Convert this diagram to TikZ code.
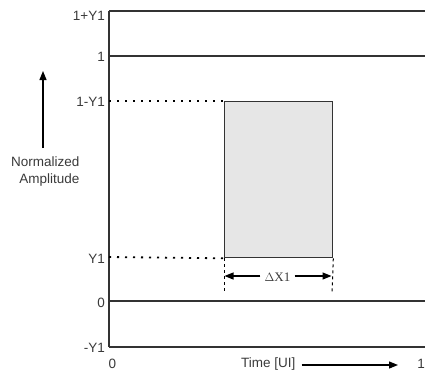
\documentclass[tikz,border=0pt]{standalone}
\usepackage{fontspec}
\setmainfont{Liberation Sans}
\newfontfamily\timesf{Liberation Serif}
\usetikzlibrary{arrows.meta}
\definecolor{ink}{HTML}{333333}
\definecolor{txt}{HTML}{3A3A3A}
\definecolor{boxfill}{HTML}{E6E6E6}
\begin{document}
\begin{tikzpicture}[x=1pt,y=-1pt,
  solidline/.style={draw=ink,line width=1.3pt},
  dotline/.style={draw=black,line width=1.8pt,dash pattern=on 2.2pt off 5.8pt},
  dashline/.style={draw=black,line width=1pt,dash pattern=on 3pt off 3pt},
  lab/.style={font=\fontsize{13.5}{15}\selectfont,text=txt,inner sep=0pt},
  ylab/.style={lab,anchor=east},
  tip/.style={-{Triangle[length=9pt,width=7pt]}}]
\useasboundingbox (0,0) rectangle (425,373);
% coordinates
\coordinate (axT) at (109,11);
\coordinate (axB) at (109,347);
\coordinate (r1) at (425,11);
\coordinate (r2) at (425,56);
\coordinate (r5) at (425,301);
\coordinate (r6) at (425,347);
\coordinate (a2) at (109,56);
\coordinate (a3) at (109,101);
\coordinate (a4) at (109,257);
\coordinate (a5) at (109,301);
% box
\node[draw=ink,line width=1.3pt,fill=boxfill,minimum width=108pt,minimum height=156pt,inner sep=0pt,anchor=north west] (box) at (224,101) {};
% horizontal lines
\draw[solidline] (axT) -- (r1);
\draw[solidline] (a2) -- (r2);
\draw[solidline] (a5) -- (r5);
\draw[solidline] (axB) -- (r6);
\draw[solidline] (axT) -- (axB);
% dotted
\draw[dotline] (a3) -- (box.north west);
\draw[dotline] (a4) -- (box.south west);
% dashed verticals
\coordinate (dl) at (224,294);
\coordinate (dr) at (332,294);
\draw[dashline] (box.south west) -- (dl);
\draw[dashline] (box.south east) -- (dr);
% delta arrow
\coordinate (dxl) at (224.5,276);
\coordinate (dxr) at (331.5,276);
\node[inner sep=0pt,font=\timesf\fontsize{13}{15}\selectfont,text=txt] (dx) at (277.5,277) {$\Delta$X1};
\draw[draw=black,line width=1.2pt,tip] (dx.west) ++(-4,-1) coordinate (dxa) -- (dxl);
\draw[draw=black,line width=1.2pt,tip] (dx.east) ++(4,-1) coordinate (dxb) -- (dxr);
% y labels
\node[ylab] (l1) at (105,16) {1+Y1};
\node[ylab] (l2) at (105,57) {1};
\node[ylab] (l3) at (105,102) {1-Y1};
\node[ylab] (l4) at (105,259) {Y1};
\node[ylab] (l5) at (105,303) {0};
\node[ylab] (l6) at (105,348) {-Y1};
% x labels
\node[lab] (x0) at (112.5,364) {0};
\node[lab,anchor=east] (x1) at (425,364) {1};
\node[lab,anchor=west] (tm) at (241,364) {Time [UI]};
\coordinate (tae) at (398,365);
\draw[draw=black,line width=1.2pt,tip] (tm.east) ++(6,1) coordinate (tas) -- (tae);
% amplitude label
\node[lab,align=right,anchor=north east] (amp) at (79.5,157) {Normalized\\[2pt]Amplitude};
\coordinate (upb) at (43,148);
\coordinate (upt) at (43,71);
\draw[draw=black,line width=1.2pt,tip] (upb) -- (upt);
\end{tikzpicture}
\end{document}
